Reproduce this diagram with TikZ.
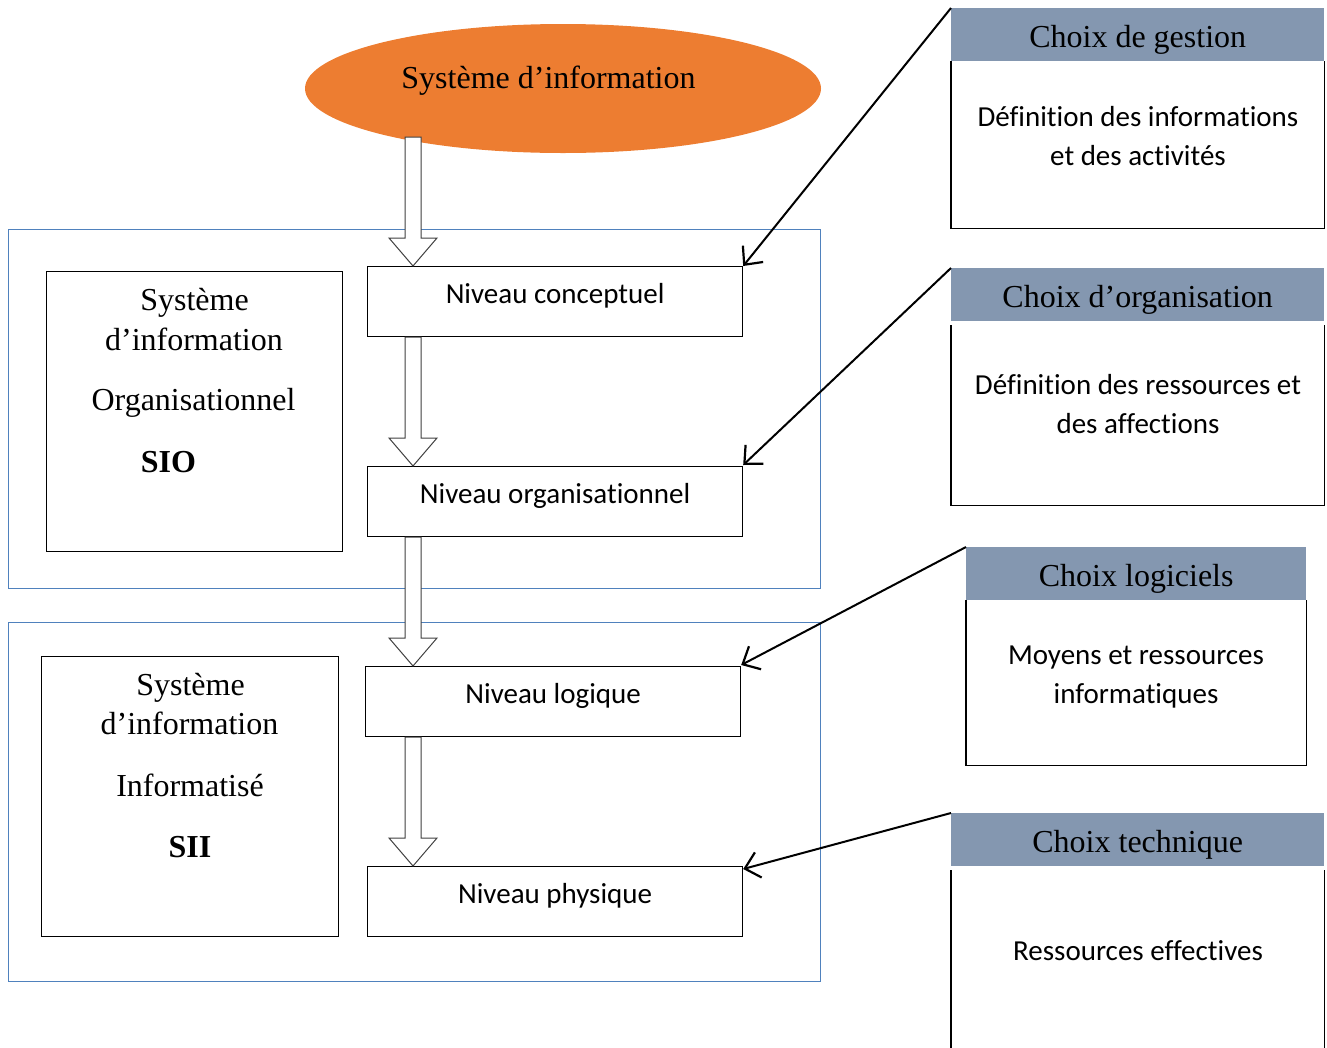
\documentclass[tikz,border=0pt]{standalone}
\usepackage{fontspec}
\setmainfont{Liberation Serif}
\newfontfamily\calibri[Ligatures=NoCommon]{Carlito}
\usetikzlibrary{arrows.meta,shapes.geometric,calc}

\definecolor{orangefill}{HTML}{ED7D31}
\definecolor{headerblue}{HTML}{8497B0}
\definecolor{frameblue}{HTML}{4F81BD}

% hollow block arrow from #1 down to the tip at #2
\newcommand\blockarrow[2]{%
  \draw[blockarrow] let \p1=(#1), \p2=(#2) in
    (\x1-8pt,\y1) -- (\x1+8pt,\y1) -- (\x1+8pt,\y2+28pt) -- (\x1+24pt,\y2+28pt)
    -- (\x1,\y2) -- (\x1-24pt,\y2+28pt) -- (\x1-8pt,\y2+28pt) -- cycle;}

\begin{document}
\begin{tikzpicture}[x=1pt,y=-1pt,
  serif/.style={font=\fontsize{32}{40}\selectfont},
  sans/.style={font=\calibri\fontsize{29}{39}\selectfont},
  framebox/.style={draw=frameblue,line width=1pt,inner sep=0pt,anchor=north west},
  levelbox/.style={draw,line width=1.2pt,minimum width=375pt,minimum height=70pt,inner sep=0pt,anchor=north west},
  sidebox/.style={draw,line width=1.2pt,minimum height=280pt,inner sep=0pt,anchor=north west},
  header/.style={fill=headerblue,minimum height=53pt,inner sep=0pt,anchor=north west},
  body/.style={inner sep=0pt,anchor=north west},
  bodyline/.style={line width=1.2pt},
  pointer/.style={line width=2pt,-{Straight Barb[length=14pt,width=26pt,line width=2.2pt]}},
  blockarrow/.style={draw=black!75,fill=white,line width=1pt},
]
\useasboundingbox (0,0) rectangle (1327,1047);
\clip (0,0) rectangle (1327,1047);

% group frames
\node[framebox,minimum width=812pt,minimum height=359pt] (fSIO) at (8,229) {};
\node[framebox,minimum width=812pt,minimum height=359pt] (fSII) at (8,622) {};

% top ellipse
\node[ellipse,fill=orangefill,minimum width=516pt,minimum height=129pt,inner sep=0pt] (si) at (563,88.5) {};
\node[serif,anchor=base] (siT) at (548.5,88) {Système d’information};

% the four levels
\node[levelbox] (conc) at (367,266) {};
\node[levelbox] (orga) at (367,466) {};
\node[levelbox] (logi) at (365,666) {};
\node[levelbox] (phys) at (367,866) {};
\node[sans,anchor=base] (concT) at ($(conc.north)+(0,37)$) {Niveau conceptuel};
\node[sans,anchor=base] (orgaT) at ($(orga.north)+(0,37)$) {Niveau organisationnel};
\node[sans,anchor=base] (logiT) at ($(logi.north)+(0,37)$) {Niveau logique};
\node[sans,anchor=base] (physT) at ($(phys.north)+(0,37)$) {Niveau physique};

% block arrows between levels
\coordinate (a0) at (413,137);
\blockarrow{a0}{conc.north -| a0}
\blockarrow{conc.south -| a0}{orga.north -| a0}
\blockarrow{orga.south -| a0}{logi.north -| a0}
\blockarrow{logi.south -| a0}{phys.north -| a0}

% side boxes
\node[sidebox,minimum width=296pt] (sio) at (46,271) {};
\node[serif,anchor=base] (sio1) at (194.5,310) {Système};
\node[serif,anchor=base] (sio2) at (194,350) {d’information};
\node[serif,anchor=base] (sio3) at (193.5,410) {Organisationnel};
\node[serif,anchor=base] (sio4) at (168.5,472) {\bfseries SIO};

\node[sidebox,minimum width=297pt] (sii) at (41,656) {};
\node[serif,anchor=base] (sii1) at (190.5,695) {Système};
\node[serif,anchor=base] (sii2) at (189.5,734) {d’information};
\node[serif,anchor=base] (sii3) at (190,796) {Informatisé};
\node[serif,anchor=base] (sii4) at (190,857) {\bfseries SII};

% choice boxes: body outline, then header band
\node[body,minimum width=373pt,minimum height=167pt] (b1) at (951,61) {};
\node[body,minimum width=373pt,minimum height=180pt] (b2) at (951,325) {};
\node[body,minimum width=340pt,minimum height=165pt] (b3) at (966,600) {};
\node[body,minimum width=373pt,minimum height=200pt] (b4) at (951,870) {};
\foreach \b in {b1,b2,b3,b4}
  \draw[bodyline] (\b.north west) -- (\b.south west) -- (\b.south east) -- (\b.north east);

\node[header,minimum width=373pt] (h1) at (951,8) {};
\node[header,minimum width=373pt] (h2) at (951,268) {};
\node[header,minimum width=340pt] (h3) at (966,547) {};
\node[header,minimum width=373pt] (h4) at (951,813) {};

\node[serif,anchor=base] (h1T) at ($(h1.north)+(0,39)$) {Choix de gestion};
\node[serif,anchor=base] (h2T) at ($(h2.north)+(0,39)$) {Choix d’organisation};
\node[serif,anchor=base] (h3T) at ($(h3.north)+(0,39)$) {Choix logiciels};
\node[serif,anchor=base] (h4T) at ($(h4.north)+(0,39)$) {Choix technique};

% two-line texts: the base anchor sits on the last line
\node[sans,anchor=base,align=center] (b1T) at (1138,165) {Définition des informations\\et des activités};
\node[sans,anchor=base,align=center] (b2T) at (1138,433) {Définition des ressources et\\des affections};
\node[sans,anchor=base,align=center] (b3T) at (1136,703) {Moyens et ressources\\informatiques};
\node[sans,anchor=base] (b4T) at (1138,960) {Ressources effectives};

% pointers from the choices to the levels
\draw[pointer] (h1.north west) -- (conc.north east);
\draw[pointer] (h2.north west) -- ([yshift=1pt]orga.north east);
\draw[pointer] (h3.north west) -- ([yshift=1pt]logi.north east);
\draw[pointer] (h4.north west) -- ([yshift=-3pt]phys.north east);
\end{tikzpicture}
\end{document}
